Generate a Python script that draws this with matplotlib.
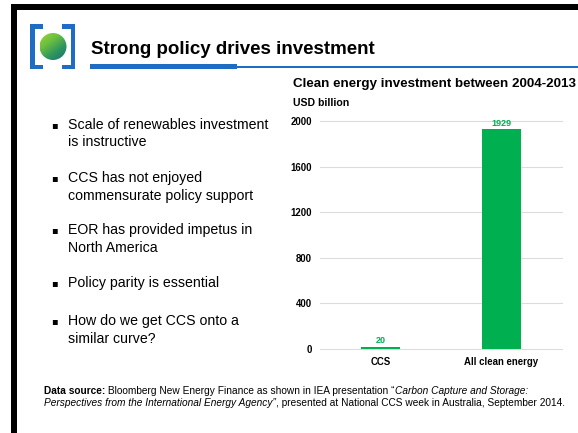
import numpy as np
import matplotlib
matplotlib.use("Agg")
import matplotlib.pyplot as plt
from matplotlib.patches import Rectangle, Circle
from matplotlib.colors import LinearSegmentedColormap

# ---------------- data ----------------
categories = ["CCS", "All clean energy"]
values = [20, 1929]
yticks = [0, 400, 800, 1200, 1600, 2000]
slide_title = "Strong policy drives investment"
chart_title = "Clean energy investment between 2004-2013"
unit_label = "USD billion"
bullets = [
    ["Scale of renewables investment", "is instructive"],
    ["CCS has not enjoyed", "commensurate policy support"],
    ["EOR has provided impetus in", "North America"],
    ["Policy parity is essential"],
    ["How do we get CCS onto a", "similar curve?"],
]
bullet_rows = [[125, 142], [178, 196], [230, 248], [283], [321, 339]]

FONT = "Liberation Sans"
plt.rcParams["font.family"] = [FONT, "DejaVu Sans"]

W, H = 578, 433
fig = plt.figure(figsize=(W / 100, H / 100), dpi=100)
fig.patch.set_facecolor("white")

bg = fig.add_axes([0, 0, 1, 1])
bg.set_xlim(0, W)
bg.set_ylim(H, 0)
bg.axis("off")

# black slide border (top and left)
bg.add_patch(Rectangle((11, 4), W - 11, 6, color="black", lw=0))
bg.add_patch(Rectangle((11, 4), 5.5, H - 4, color="black", lw=0))

# logo brackets
blue = "#1f6cc4"
for r in [(30, 24, 4.5, 45), (30, 24, 13, 4.5), (30, 64.5, 13, 4.5),
          (70.5, 24, 4.5, 45), (62, 24, 13, 4.5), (62, 64.5, 13, 4.5)]:
    bg.add_patch(Rectangle((r[0], r[1]), r[2], r[3], color=blue, lw=0))

# logo gradient circle
cx, cy, rad = 53, 46.5, 13.5
gx, gy = np.meshgrid(np.linspace(0, 1, 120), np.linspace(0, 1, 120))
grad = (gx * 0.55 + gy * 0.75)
cmap = LinearSegmentedColormap.from_list("g", ["#9bd43a", "#6cbf3f", "#2d9460", "#1a6f78"])
im = bg.imshow(grad, cmap=cmap, extent=(cx - rad, cx + rad, cy + rad, cy - rad),
               origin="upper", zorder=2, aspect="auto")
circ = Circle((cx, cy), rad, transform=bg.transData, facecolor="none", edgecolor="none")
bg.add_patch(circ)
im.set_clip_path(circ)
bg.set_xlim(0, W)
bg.set_ylim(H, 0)

# slide title and underline
bg.text(91, 50, slide_title, fontsize=13.5, fontweight="bold", color="black",
        va="center", ha="left", family=FONT)
bg.add_patch(Rectangle((90, 63.5), 147, 5, color=blue, lw=0))
bg.add_patch(Rectangle((237, 65.5), W - 237, 2.5, color=blue, lw=0))

# bullets
for lines, rows in zip(bullets, bullet_rows):
    bg.text(54, rows[0] + 0.5, "\u25aa", fontsize=7, family="DejaVu Sans",
            va="center", ha="center", color="black")
    for ln, yy in zip(lines, rows):
        bg.text(68, yy, ln, fontsize=10.2, va="center", ha="left", color="black", family=FONT)

# chart titles
bg.text(293, 84, chart_title, fontsize=9.6, fontweight="bold", va="center", ha="left", family=FONT)
bg.text(293, 103, unit_label, fontsize=7.6, fontweight="bold", va="center", ha="left", family=FONT)

# ---------------- bar chart ----------------
ax = fig.add_axes([320 / W, 1 - 349 / H, 242 / W, 228 / H])
ax.set_facecolor("none")
green = "#00b050"
x = np.arange(len(categories))
bars = ax.bar(x, values, width=0.32, color=green, zorder=3)
ax.bar_label(bars, labels=[str(v) for v in values], padding=1, fontsize=6.5,
             fontweight="bold", color=green, family=FONT)
ax.set_xlim(-0.5, 1.5)
ax.set_ylim(0, 2000)
ax.set_yticks(yticks)
ax.set_yticklabels([str(t) for t in yticks], fontsize=6.9, fontweight="bold", family=FONT)
ax.set_xticks(x)
ax.set_xticklabels(categories, fontsize=6.9, fontweight="bold", family=FONT)
ax.tick_params(axis="both", length=0)
ax.tick_params(axis="y", pad=6)
ax.tick_params(axis="x", pad=6)
ax.grid(axis="y", color="#dcdcdc", lw=0.8, zorder=0)
ax.set_axisbelow(True)
for s in ax.spines.values():
    s.set_visible(False)
for gl in ax.get_ygridlines():
    gl.set_clip_on(False)

# ---------------- footer with mixed styles ----------------
renderer = fig.canvas.get_renderer()
fs = 7.3

def rich_line(x0, y0, parts):
    xx = x0
    for txt, style in parts:
        kw = dict(fontsize=fs, va="center", ha="left", color="black", family=FONT)
        if style == "b":
            kw["fontweight"] = "bold"
        elif style == "i":
            kw["fontstyle"] = "italic"
        t = bg.text(xx, y0, txt, **kw)
        bb = t.get_window_extent(renderer=renderer)
        xx += bb.width * (W / fig.bbox.width)

rich_line(44, 391, [("Data source:", "b"),
                    (" Bloomberg New Energy Finance as shown in IEA presentation \u201c", "n"),
                    ("Carbon Capture and Storage:", "i")])
rich_line(44, 403, [("Perspectives from the International Energy Agency\u201d", "i"),
                    (", presented at National CCS week in Australia, September 2014.", "n")])

fig.savefig("out.png", dpi=100, facecolor="white")
